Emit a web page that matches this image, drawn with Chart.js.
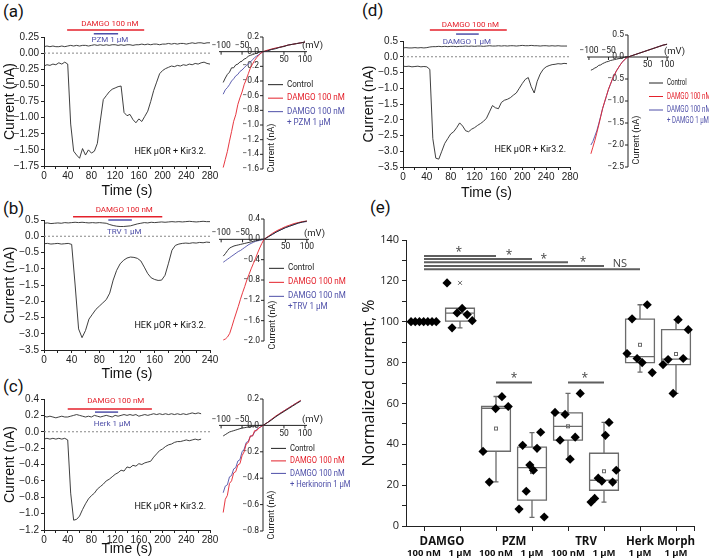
<!DOCTYPE html>
<html>
<head>
<meta charset="utf-8">
<script src="https://cdn.jsdelivr.net/npm/chart.js@4.4.1/dist/chart.umd.min.js"></script>
<style>
  body { margin: 0; background: #fff; }
  #fig { position: relative; width: 709px; height: 560px; background: #fff; overflow: hidden; font-family: Roboto, sans-serif; }
  #fig canvas { position: absolute; }
  .plab { position: absolute; font-size: 17px; line-height: 20px; color: #111; }
</style>
</head>
<body>
<div id="fig">
  <div class="plab" style="left:3px;top:1px">(a)</div>
  <div class="plab" style="left:3px;top:198px">(b)</div>
  <div class="plab" style="left:3px;top:376px">(c)</div>
  <div class="plab" style="left:362px;top:0px">(d)</div>
  <div class="plab" style="left:370px;top:197px">(e)</div>
</div>
<script>
// ---- time traces (nA), sampled every 5 s ----
const timeS = [0,5,10,15,20,25,30,35,40,45,50,55,60,65,70,75,80,85,90,95,100,105,110,115,120,125,130,135,140,145,150,155,160,165,170,175,180,185,190,195,200,205,210,215,220,225,230,235,240,245,250,255,260,265,270,275,280];

const upperA = [0.10,0.11,0.10,0.11,0.10,0.10,0.11,0.10,0.11,0.12,0.11,0.12,0.11,0.12,0.12,0.11,0.12,0.13,0.12,0.13,0.12,0.13,0.12,0.13,0.13,0.12,0.13,0.12,0.13,0.13,0.12,0.13,0.13,0.14,0.13,0.14,0.13,0.14,0.14,0.13,0.14,0.14,0.15,0.14,0.15,0.14,0.15,0.15,0.14,0.15,0.16,0.15,0.16,0.16,0.15,0.16,0.16];
const lowerA = [-0.20,-0.18,-0.19,-0.17,-0.18,-0.15,-0.17,-0.14,-0.17,-1.10,-1.52,-1.58,-1.63,-1.48,-1.58,-1.50,-1.55,-1.52,-1.40,-1.05,-0.72,-0.66,-0.60,-0.56,-0.54,-0.52,-0.51,-0.92,-0.97,-0.95,-1.03,-1.08,-1.02,-1.06,-0.98,-0.90,-0.75,-0.58,-0.45,-0.32,-0.27,-0.24,-0.22,-0.20,-0.21,-0.19,-0.20,-0.18,-0.19,-0.17,-0.18,-0.16,-0.17,-0.15,-0.14,-0.16,-0.17];

const upperB = [0.40,0.41,0.39,0.40,0.41,0.40,0.42,0.41,0.42,0.43,0.42,0.43,0.42,0.41,0.42,0.41,0.42,0.41,0.40,0.36,0.33,0.31,0.30,0.30,0.31,0.32,0.35,0.38,0.40,0.42,0.41,0.43,0.42,0.43,0.44,0.43,0.44,0.45,0.44,0.45,0.44,0.45,0.46,0.45,0.44,0.45,0.46,0.45,0.45];
const lowerB = [-0.23,-0.22,-0.24,-0.23,-0.22,-0.24,-0.23,-0.22,-0.25,-1.50,-2.85,-3.12,-2.90,-2.55,-2.40,-2.25,-2.15,-2.05,-1.95,-1.75,-1.35,-1.05,-0.85,-0.74,-0.67,-0.64,-0.65,-0.68,-0.76,-0.95,-1.15,-1.28,-1.33,-1.36,-1.35,-1.20,-0.83,-0.43,-0.28,-0.24,-0.22,-0.21,-0.22,-0.20,-0.21,-0.19,-0.20,-0.18,-0.19];

const upperC = [0.19,0.18,0.19,0.18,0.17,0.18,0.19,0.18,0.18,0.19,0.20,0.21,0.20,0.19,0.18,0.19,0.18,0.20,0.19,0.18,0.19,0.20,0.19,0.18,0.20,0.19,0.20,0.21,0.20,0.21,0.20,0.21,0.19,0.20,0.21,0.20,0.21,0.22,0.21,0.22,0.21,0.22,0.21,0.22,0.21,0.22,0.21,0.22,0.21,0.22,0.23,0.22,0.23,0.22];
const lowerC = [-0.09,-0.08,-0.09,-0.08,-0.09,-0.08,-0.09,-0.08,-0.10,-0.75,-1.08,-1.07,-1.03,-0.95,-0.88,-0.82,-0.78,-0.75,-0.70,-0.67,-0.64,-0.60,-0.58,-0.55,-0.52,-0.50,-0.47,-0.48,-0.43,-0.44,-0.41,-0.42,-0.39,-0.40,-0.38,-0.37,-0.36,-0.31,-0.27,-0.23,-0.21,-0.18,-0.16,-0.15,-0.13,-0.12,-0.12,-0.11,-0.10,-0.11,-0.10,-0.09,-0.10,-0.09];

const upperD = [0.28,0.29,0.28,0.28,0.29,0.28,0.29,0.28,0.29,0.31,0.32,0.32,0.33,0.32,0.33,0.32,0.33,0.33,0.32,0.33,0.33,0.34,0.33,0.34,0.33,0.34,0.34,0.33,0.34,0.35,0.34,0.34,0.35,0.34,0.35,0.34,0.35,0.35,0.34,0.35,0.36,0.35,0.35,0.36,0.35,0.35,0.34,0.35,0.35,0.34,0.35,0.34,0.35,0.34,0.34,0.34];
const lowerD = [-0.30,-0.31,-0.30,-0.32,-0.31,-0.30,-0.32,-0.31,-0.32,-0.40,-2.60,-3.22,-3.25,-3.00,-2.75,-2.60,-2.45,-2.38,-2.25,-2.10,-2.20,-2.35,-2.38,-2.30,-2.25,-2.18,-2.12,-2.05,-1.95,-1.75,-1.55,-1.62,-1.65,-1.45,-1.38,-1.35,-1.30,-1.22,-1.15,-1.00,-0.85,-0.72,-0.66,-0.95,-1.15,-0.78,-0.55,-0.40,-0.32,-0.28,-0.25,-0.24,-0.22,-0.23,-0.21,-0.22];

// tick labels of the trace plots
const timeTicks280 = [0,20,40,60,80,100,120,140,160,180,200,220,240,260,280];
const timeTicks240 = [0,20,40,60,80,100,120,140,160,180,200,220,240];
const yTicksA = [0.25,0,-0.25,-0.5,-0.75,-1,-1.25,-1.5,-1.75];
const yTicksB = [0.5,0,-0.5,-1,-1.5,-2,-2.5,-3,-3.5];
const yTicksC = [0.4,0.2,0,-0.2,-0.4,-0.6,-0.8,-1,-1.2];
const yTicksD = [0.5,0,-0.5,-1,-1.5,-2,-2.5,-3,-3.5];

// ---- I-V curves (mV, nA) ----
const ivMv = [-95,-90,-85,-80,-75,-70,-65,-60,-55,-50,-45,-40,-35,-30,-25,-20,-15,-10,-5,0,10,20,30,40,50,60,70,80,90,100];

const ivCtrlA  = [-0.42,-0.36,-0.31,-0.28,-0.22,-0.22,-0.18,-0.17,-0.14,-0.13,-0.10,-0.09,-0.06,-0.05,-0.04,-0.03,-0.02,-0.01,0.00,0.00,0.01,0.03,0.04,0.06,0.07,0.09,0.10,0.11,0.12,0.13];
const ivDamgoA = [-1.58,-1.47,-1.36,-1.22,-1.09,-0.95,-0.86,-0.72,-0.63,-0.55,-0.45,-0.38,-0.30,-0.22,-0.17,-0.12,-0.08,-0.05,-0.02,0.00,0.02,0.035,0.05,0.06,0.075,0.09,0.10,0.11,0.12,0.13];
const ivDrugA  = [-0.58,-0.52,-0.49,-0.45,-0.40,-0.37,-0.33,-0.31,-0.27,-0.25,-0.22,-0.19,-0.17,-0.14,-0.11,-0.08,-0.06,-0.04,-0.02,0.00,0.01,0.03,0.045,0.06,0.075,0.09,0.10,0.11,0.12,0.13];

const ivCtrlB  = [-0.33,-0.28,-0.22,-0.17,-0.15,-0.13,-0.12,-0.11,-0.10,-0.09,-0.08,-0.07,-0.06,-0.05,-0.04,-0.03,-0.02,-0.01,0.00,0.00,0.05,0.10,0.15,0.19,0.23,0.26,0.29,0.32,0.34,0.36];
const ivDamgoB = [-1.98,-1.96,-1.92,-1.85,-1.72,-1.58,-1.45,-1.32,-1.18,-1.05,-0.93,-0.80,-0.69,-0.58,-0.48,-0.38,-0.27,-0.17,-0.08,0.00,0.06,0.12,0.17,0.21,0.25,0.28,0.31,0.33,0.35,0.36];
const ivDrugB  = [-0.45,-0.42,-0.39,-0.36,-0.33,-0.30,-0.27,-0.24,-0.22,-0.19,-0.16,-0.13,-0.10,-0.08,-0.06,-0.04,-0.03,-0.02,-0.01,0.00,0.05,0.10,0.15,0.19,0.23,0.26,0.29,0.32,0.34,0.35];

const ivCtrlC  = [-0.08,-0.07,-0.06,-0.05,-0.045,-0.04,-0.035,-0.03,-0.025,-0.02,-0.018,-0.015,-0.012,-0.01,-0.008,-0.006,-0.004,-0.002,0.00,0.00,0.02,0.04,0.065,0.085,0.105,0.125,0.145,0.165,0.185];
const ivDamgoC = [-0.66,-0.56,-0.53,-0.44,-0.42,-0.36,-0.35,-0.30,-0.29,-0.23,-0.20,-0.14,-0.13,-0.08,-0.08,-0.04,-0.04,-0.02,-0.01,0.00,0.02,0.045,0.07,0.09,0.11,0.13,0.15,0.17,0.19];
const ivDrugC  = [-0.51,-0.46,-0.45,-0.39,-0.38,-0.33,-0.32,-0.27,-0.26,-0.20,-0.18,-0.13,-0.12,-0.08,-0.08,-0.05,-0.03,-0.02,-0.01,0.00,0.02,0.045,0.065,0.09,0.11,0.13,0.15,0.17,0.185];

const ivCtrlD  = [-0.30,-0.28,-0.25,-0.23,-0.19,-0.18,-0.15,-0.13,-0.11,-0.10,-0.08,-0.07,-0.06,-0.05,-0.04,-0.03,-0.02,-0.01,0.00,0.00,0.03,0.06,0.09,0.12,0.15,0.18,0.21,0.24,0.27,0.29];
const ivDamgoD = [-2.20,-2.05,-1.90,-1.73,-1.55,-1.36,-1.17,-1.02,-0.88,-0.73,-0.62,-0.50,-0.41,-0.32,-0.25,-0.18,-0.12,-0.07,-0.03,0.00,0.03,0.06,0.09,0.12,0.15,0.18,0.21,0.24,0.27,0.29];
const ivDrugD  = [-2.00,-1.92,-1.80,-1.68,-1.52,-1.35,-1.17,-1.03,-0.88,-0.74,-0.62,-0.51,-0.41,-0.32,-0.25,-0.18,-0.12,-0.07,-0.03,0.00,0.03,0.06,0.09,0.12,0.15,0.18,0.21,0.24,0.27,0.29];

const ivXTicks = [-100,-50,50,100];
const ivYTicksA = [0.2,0,-0.2,-0.4,-0.6,-0.8,-1,-1.2,-1.4,-1.6];
const ivYTicksB = [0.4,0,-0.4,-0.8,-1.2,-1.6,-2];
const ivYTicksC = [0.2,0,-0.2,-0.4,-0.6,-0.8];
const ivYTicksD = [0.5,0,-0.5,-1,-1.5,-2,-2.5];

// ---- panel (e): normalized current, % ----
const drugNames = ['DAMGO','PZM','TRV','Herk','Morph'];
const drugOfGroup = [0,0,1,1,2,2,3,4];
const doseLabels = ['100 nM','1 \u03bcM','100 nM','1 \u03bcM','100 nM','1 \u03bcM','1 \u03bcM','1 \u03bcM'];
const pointsE = [
  [100,100,100,100,100,100,100],
  [119,97,104.3,106.5,103.5,100.5],
  [36.5,21.5,57.5,63.3,58.5],
  [8.3,39.5,17,29.8,27.3,38,45.9,4.4],
  [55.6,42,54.6,32.7,43.5,64.9],
  [11.7,13.5,23.4,22,44.4,50.7,21.5,27.3],
  [84.4,101.4,82,80,108.3,75.1],
  [79,81.5,64.9,101,82,96.1]
];
const boxQ1     = [null,100.3,36.6,12.7,42.0,17.5,80.0,79.0];
const boxMedian = [null,104.2,57.6,28.6,48.8,22.4,82.9,81.7];
const boxQ3     = [null,106.6,58.5,38.6,55.4,35.6,101.3,96.1];
const whiskLow  = [null,97.0,21.6,4.2,32.7,11.7,75.3,64.9];
const whiskHigh = [null,106.6,63.4,45.7,64.9,50.7,108.3,101.0];
const boxMean   = [null,105.1,47.7,26.4,48.8,26.8,88.7,84.2];
const maxCross  = [null,119,null,null,null,null,null,null];
const yTicksE = [0,10,20,30,40,50,60,70,80,90,100,110,120,130,140];
const sigTopEnd = [3,4,5,6,7];
const sigTopLevel = [132.2,130.7,129.1,127.3,125.7];
const sigTopText = ['*','*','*','*','NS'];

const INK = '#222', RED = '#e4212b', BLUE = '#4e4fa8';
const fmt = (v, d) => (v < 0 ? '\u2212' : '') + Math.abs(v).toFixed(d);

function addCanvas(b) {
  const c = document.createElement('canvas');
  c.width = b.w; c.height = b.h;
  c.style.left = b.l + 'px'; c.style.top = b.t + 'px';
  c.style.width = b.w + 'px'; c.style.height = b.h + 'px';
  document.getElementById('fig').appendChild(c);
  return c;
}

// drug bars, zero line and cell label on the trace plots
const traceNotes = {
  id: 'traceNotes',
  beforeDatasetsDraw(chart) {
    const {ctx, chartArea: a, scales: {y}} = chart;
    const y0 = y.getPixelForValue(0);
    ctx.save();
    ctx.strokeStyle = '#888'; ctx.lineWidth = 1; ctx.setLineDash([2, 2]);
    ctx.beginPath(); ctx.moveTo(a.left, y0); ctx.lineTo(a.right, y0); ctx.stroke();
    ctx.restore();
  },
  afterDatasetsDraw(chart, args, o) {
    const {ctx, chartArea: a, scales: {x, y}} = chart;
    ctx.save();
    ctx.lineWidth = 1.5;
    ctx.textAlign = 'center'; ctx.textBaseline = 'middle';
    ctx.font = '8px Roboto';
    o.bars.forEach(b => {
      ctx.strokeStyle = b.color; ctx.fillStyle = b.color;
      const py = y.getPixelForValue(b.level);
      ctx.beginPath(); ctx.moveTo(x.getPixelForValue(b.from), py); ctx.lineTo(x.getPixelForValue(b.to), py); ctx.stroke();
      ctx.fillText(b.text, x.getPixelForValue(b.tx), y.getPixelForValue(b.ty));
    });
    ctx.fillStyle = '#111'; ctx.textAlign = 'right'; ctx.font = '9px Roboto';
    ctx.fillText('HEK \u03bcOR + Kir3.2.', a.right - 4, y.getPixelForValue(o.hekY));
    ctx.restore();
  }
};

function traceChart(box, area, upper, lower, xTicks, yTicks, dec, notes) {
  const c = addCanvas(box);
  const line = vals => ({
    data: vals.map((v, i) => ({x: timeS[i], y: v})),
    borderColor: '#2a2a2a', borderWidth: 0.9, pointRadius: 0, tension: 0
  });
  new Chart(c, {
    type: 'line',
    data: { datasets: [line(upper), line(lower)] },
    options: {
      responsive: false, animation: false, devicePixelRatio: 1,
      layout: { padding: { left: 0, bottom: 0, top: area.t - box.t, right: box.l + box.w - area.r } },
      plugins: { legend: { display: false }, tooltip: { enabled: false }, traceNotes: notes },
      scales: {
        x: {
          type: 'linear', min: 0, max: xTicks[xTicks.length - 1],
          afterFit: s => { s.height = box.t + box.h - area.b; },
          afterBuildTicks: s => { s.ticks = xTicks.map(v => ({value: v})); },
          ticks: { autoSkip: false, maxRotation: 0, padding: 1, color: INK, font: { size: 10 },
                   callback: v => (v % 40 === 0 ? String(v) : '') },
          grid: { drawOnChartArea: false, tickLength: 3, color: INK },
          border: { color: INK },
          title: { display: true, text: 'Time (s)', color: '#111', font: { size: 14 }, padding: { top: 0, bottom: 2 } }
        },
        y: {
          min: yTicks[yTicks.length - 1], max: yTicks[0],
          afterFit: s => { s.width = area.l - box.l; },
          afterBuildTicks: s => { s.ticks = yTicks.map(v => ({value: v})); },
          ticks: { autoSkip: false, padding: 2, color: INK, font: { size: 10 }, callback: v => fmt(v, dec) },
          grid: { drawOnChartArea: false, tickLength: 3, color: INK },
          border: { color: INK },
          title: { display: true, text: 'Current (nA)', color: '#111', font: { size: 14 }, padding: { top: 2, bottom: 0 } }
        }
      }
    },
    plugins: [traceNotes]
  });
}

// axes through the origin, legend and labels of the I-V insets
const ivDecor = {
  id: 'ivDecor',
  beforeDatasetsDraw(chart, args, o) {
    const {ctx, chartArea: a, scales: {x, y}} = chart;
    const x0 = x.getPixelForValue(0), y0 = y.getPixelForValue(0);
    ctx.save();
    ctx.strokeStyle = INK; ctx.lineWidth = 1;
    ctx.beginPath();
    ctx.moveTo(a.left, y0); ctx.lineTo(a.right, y0);
    ctx.moveTo(x0, a.top); ctx.lineTo(x0, a.bottom);
    o.yTicks.forEach(v => { const p = y.getPixelForValue(v); ctx.moveTo(x0 - 3, p); ctx.lineTo(x0, p); });
    o.xTicks.forEach(v => { const p = x.getPixelForValue(v); ctx.moveTo(p, y0); ctx.lineTo(p, y0 + 3); });
    ctx.stroke();
    ctx.fillStyle = INK; ctx.font = '8.5px Roboto';
    ctx.textAlign = 'right'; ctx.textBaseline = 'middle';
    o.yTicks.forEach(v => ctx.fillText(fmt(v, 1), x0 - 4, y.getPixelForValue(v)));
    ctx.textAlign = 'center';
    o.xTicks.forEach(v => ctx.fillText(fmt(v, 0), x.getPixelForValue(v), v < 0 ? y0 - 6 : y0 + 8));
    ctx.font = '9.5px Roboto'; ctx.textAlign = 'left'; ctx.textBaseline = 'bottom';
    ctx.fillText('(mV)', a.right - 5, y0 - 1);
    ctx.translate(x0 + 9, a.bottom - o.titleDy); ctx.rotate(-Math.PI / 2);
    ctx.font = '9px Roboto'; ctx.textAlign = 'center'; ctx.textBaseline = 'middle';
    ctx.fillText('Current (nA)', 0, 0);
    ctx.restore();
  },
  afterDatasetsDraw(chart, args, o) {
    const {ctx, scales: {x, y}} = chart;
    const lx = x.getPixelForValue(0) + o.lx;
    let ly = y.getPixelForValue(0) + o.ly;
    ctx.save();
    ctx.font = '8.5px Roboto'; ctx.textAlign = 'left'; ctx.textBaseline = 'middle';
    chart.data.datasets.forEach(ds => {
      ctx.strokeStyle = ds.borderColor; ctx.fillStyle = ds.borderColor; ctx.lineWidth = 1;
      ctx.beginPath(); ctx.moveTo(lx, ly); ctx.lineTo(lx + o.lineLen, ly); ctx.stroke();
      ds.label.split('\n').forEach((t, k) => {
        ctx.save();
        ctx.translate(lx + o.lineLen + 4, ly + k * 11);
        ctx.scale(o.squeeze, 1);
        ctx.fillText(t, 0, 0);
        ctx.restore();
      });
      ly += o.row;
    });
    ctx.restore();
  }
};

function ivChart(area, mv, ctrl, damgo, drug, drugLabel, yTicks, decor) {
  const m = { l: 32, t: 20, r: 64, b: 14 };
  const box = { l: area.l - m.l, t: area.t - m.t, w: area.r - area.l + m.l + m.r, h: area.b - area.t + m.t + m.b };
  const c = addCanvas(box);
  const line = (vals, color, label) => ({
    label, data: vals.map((v, i) => ({x: mv[i], y: v})),
    borderColor: color, borderWidth: 0.9, pointRadius: 0, tension: 0
  });
  new Chart(c, {
    type: 'line',
    data: { datasets: [line(ctrl, INK, 'Control'), line(damgo, RED, 'DAMGO 100 nM'), line(drug, BLUE, drugLabel)] },
    options: {
      responsive: false, animation: false, devicePixelRatio: 1,
      layout: { padding: { left: m.l, top: m.t, right: m.r, bottom: m.b } },
      plugins: { legend: { display: false }, tooltip: { enabled: false },
                 ivDecor: Object.assign({ yTicks, xTicks: ivXTicks, lineLen: 15, squeeze: 0.95 }, decor) },
      scales: {
        x: { type: 'linear', display: false, min: -105, max: 105 },
        y: { display: false, min: yTicks[yTicks.length - 1], max: yTicks[0] }
      }
    },
    plugins: [ivDecor]
  });
}

// ---- panels (a)-(d) ----
traceChart({l: 0, t: 0, w: 222, h: 202}, {l: 44, t: 37, r: 210, b: 166}, upperA, lowerA, timeTicks280, yTicksA, 2, {
  bars: [{from: 39, to: 169, level: 0.36, color: RED, text: 'DAMGO 100 nM', tx: 111, ty: 0.45},
         {from: 84, to: 125, level: 0.30, color: BLUE, text: 'PZM 1 \u03bcM', tx: 111, ty: 0.20}],
  hekY: -1.53 });
traceChart({l: 0, t: 180, w: 222, h: 205}, {l: 44, t: 220, r: 210, b: 350}, upperB, lowerB, timeTicks240, yTicksB, 1, {
  bars: [{from: 42, to: 171, level: 0.60, color: RED, text: 'DAMGO 100 nM', tx: 116, ty: 0.81},
         {from: 93, to: 127, level: 0.50, color: BLUE, text: 'TRV 1 \u03bcM', tx: 116, ty: 0.13}],
  hekY: -2.75 });
traceChart({l: 0, t: 360, w: 222, h: 200}, {l: 44, t: 399, r: 210, b: 530}, upperC, lowerC, timeTicks280, yTicksC, 1, {
  bars: [{from: 40, to: 182, level: 0.278, color: RED, text: 'DAMGO 100 nM', tx: 121, ty: 0.375},
         {from: 86, to: 125, level: 0.24, color: BLUE, text: 'Herk 1 \u03bcM', tx: 115, ty: 0.095}],
  hekY: -0.92 });
traceChart({l: 359, t: 0, w: 222, h: 204}, {l: 403, t: 41, r: 570, b: 167}, upperD, lowerD, timeTicks280, yTicksD, 1, {
  bars: [{from: 45, to: 174, level: 0.85, color: RED, text: 'DAMGO 100 nM', tx: 113, ty: 1.01},
         {from: 89, to: 127, level: 0.72, color: BLUE, text: 'DAMGO 1 \u03bcM', tx: 107, ty: 0.47}],
  hekY: -2.96 });

ivChart({l: 219, t: 37, r: 307, b: 169}, ivMv, ivCtrlA, ivDamgoA, ivDrugA, 'DAMGO 100 nM\n+ PZM 1 \u03bcM', ivYTicksA,
  {lx: 5, ly: 33, row: 13.5, titleDy: 21});
ivChart({l: 219, t: 219, r: 309, b: 341}, ivMv, ivCtrlB, ivDamgoB, ivDrugB, 'DAMGO 100 nM\n+TRV 1 \u03bcM', ivYTicksB,
  {lx: 5, ly: 29, row: 14, titleDy: 16});
ivChart({l: 219, t: 399, r: 307, b: 531}, ivMv, ivCtrlC, ivDamgoC, ivDrugC, 'DAMGO 100 nM\n+ Herkinorin 1 \u03bcM', ivYTicksC,
  {lx: 8, ly: 23, row: 12.5, titleDy: 16, squeeze: 0.9});
ivChart({l: 587, t: 35, r: 669, b: 167}, ivMv, ivCtrlD, ivDamgoD, ivDrugD, 'DAMGO 100 nM\n+ DAMGO 1 \u03bcM', ivYTicksD,
  {lx: 21, ly: 26, row: 13.5, titleDy: 27, lineLen: 14, squeeze: 0.72});

// ---- panel (e) ----
const boxDraw = {
  id: 'boxDraw',
  beforeDatasetsDraw(chart) {
    const {ctx, scales: {x, y}} = chart;
    ctx.save();
    ctx.strokeStyle = '#6b6b6b'; ctx.lineWidth = 1.3;
    boxQ1.forEach((q1, i) => {
      if (q1 == null) return;
      const cx = x.getPixelForValue(i + 1), hw = x.getPixelForValue(i + 1.4) - cx;
      const p1 = y.getPixelForValue(q1), p3 = y.getPixelForValue(boxQ3[i]);
      const pm = y.getPixelForValue(boxMedian[i]);
      const pl = y.getPixelForValue(whiskLow[i]), ph = y.getPixelForValue(whiskHigh[i]);
      ctx.beginPath();
      ctx.rect(cx - hw, p3, 2 * hw, p1 - p3);
      ctx.moveTo(cx - hw, pm); ctx.lineTo(cx + hw, pm);
      ctx.moveTo(cx, p3); ctx.lineTo(cx, ph);
      ctx.moveTo(cx, p1); ctx.lineTo(cx, pl);
      ctx.moveTo(cx - 2.5, ph); ctx.lineTo(cx + 2.5, ph);
      ctx.moveTo(cx - 2.5, pl); ctx.lineTo(cx + 2.5, pl);
      ctx.stroke();
      ctx.lineWidth = 1;
      const pa = y.getPixelForValue(boxMean[i]);
      ctx.strokeRect(cx - 1.5, pa - 1.5, 3, 3);
      if (maxCross[i] != null) {
        const pc = y.getPixelForValue(maxCross[i]);
        ctx.beginPath();
        ctx.moveTo(cx - 2, pc - 2); ctx.lineTo(cx + 2, pc + 2);
        ctx.moveTo(cx - 2, pc + 2); ctx.lineTo(cx + 2, pc - 2);
        ctx.stroke();
      }
      ctx.lineWidth = 1.3;
    });
    ctx.restore();
  },
  afterDatasetsDraw(chart) {
    const {ctx, chartArea: a, scales: {x, y}} = chart;
    ctx.save();
    // significance bars
    ctx.strokeStyle = '#5f5f5f'; ctx.lineWidth = 2;
    ctx.beginPath();
    sigTopEnd.forEach((g, k) => {
      const p = y.getPixelForValue(sigTopLevel[k]);
      ctx.moveTo(x.getPixelForValue(1), p); ctx.lineTo(x.getPixelForValue(g), p);
    });
    [[3, 4], [5, 6]].forEach(([g1, g2]) => {
      const p = y.getPixelForValue(70.2);
      ctx.moveTo(x.getPixelForValue(g1), p); ctx.lineTo(x.getPixelForValue(g2), p);
    });
    ctx.stroke();
    ctx.fillStyle = '#444'; ctx.textAlign = 'center'; ctx.textBaseline = 'middle';
    const starX = [1.97, 3.36, 4.33, 5.42, 6.44];
    const starY = [134.6, 133.2, 131.4, 129.8, 128.3];
    sigTopText.forEach((t, k) => {
      ctx.font = t === 'NS' ? '11px "Open Sans"' : '12px "Open Sans"';
      ctx.fillText(t, x.getPixelForValue(starX[k]), y.getPixelForValue(starY[k]) + (t === 'NS' ? 0 : 2));
    });
    ctx.font = '12px "Open Sans"';
    ctx.fillText('*', x.getPixelForValue(3.5), y.getPixelForValue(73.2) + 2);
    ctx.fillText('*', x.getPixelForValue(5.47), y.getPixelForValue(73.2) + 2);
    // category labels
    ctx.fillStyle = '#111';
    ctx.font = 'bold 11.5px "Open Sans"';
    drugNames.forEach((n, d) => {
      const gs = drugOfGroup.map((v, i) => (v === d ? i + 1 : null)).filter(v => v != null);
      const mid = gs.reduce((s, v) => s + v, 0) / gs.length;
      ctx.fillText(n, x.getPixelForValue(mid), a.bottom + 16);
    });
    ctx.font = 'bold 9.5px "Open Sans"';
    doseLabels.forEach((t, i) => ctx.fillText(t, x.getPixelForValue(i + 1), a.bottom + 27));
    ctx.restore();
  }
};

(function () {
  const box = {l: 360, t: 195, w: 349, h: 365}, area = {l: 406, t: 240, r: 694, b: 526};
  const c = addCanvas(box);
  const pts = [];
  pointsE.forEach((vals, g) => {
    vals.forEach((v, i) => {
      const off = vals.length > 1 ? -0.36 + 0.7 * i / (vals.length - 1) : 0;
      pts.push({x: g + 1 + off, y: v});
    });
  });
  new Chart(c, {
    type: 'scatter',
    data: { datasets: [{ data: pts, pointStyle: 'rectRot', pointRadius: 4.6, backgroundColor: '#000', borderColor: '#000', borderWidth: 0 }] },
    options: {
      responsive: false, animation: false, devicePixelRatio: 1,
      layout: { padding: { left: 0, bottom: 0, top: area.t - box.t, right: box.l + box.w - area.r } },
      plugins: { legend: { display: false }, tooltip: { enabled: false } },
      scales: {
        x: {
          type: 'linear', min: 0.5, max: 8.5,
          afterFit: s => { s.height = box.t + box.h - area.b; },
          afterBuildTicks: s => { s.ticks = [1, 2, 3, 4, 5, 6, 7, 8, 8.5].map(v => ({value: v})); },
          ticks: { callback: () => '', autoSkip: false },
          grid: { drawOnChartArea: false, tickLength: 5, color: INK },
          border: { color: INK }
        },
        y: {
          min: 0, max: 140,
          afterFit: s => { s.width = area.l - box.l; },
          afterBuildTicks: s => { s.ticks = yTicksE.map(v => ({value: v})); },
          ticks: { autoSkip: false, padding: 3, color: INK, font: { family: '"Open Sans"', size: 11 },
                   callback: v => (v % 20 === 0 ? String(v) : '') },
          grid: { drawOnChartArea: false, tickLength: 4, color: INK },
          border: { color: INK },
          title: { display: true, text: 'Normalized current, %', color: '#111',
                   font: { family: '"Open Sans"', size: 16 }, padding: { top: 0, bottom: 0 } }
        }
      }
    },
    plugins: [boxDraw]
  });
})();
</script>
</body>
</html>
